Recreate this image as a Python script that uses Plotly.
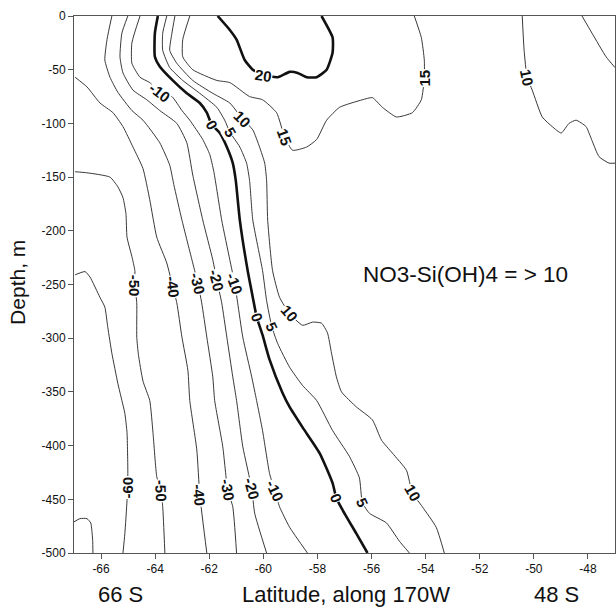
import plotly.graph_objects as go

# ---- contour lines: latitude (deg) and depth (m, negative) ----
lat_m70 = [-67.0, -66.78, -66.52, -66.38, -66.34, -66.31, -66.30]
dep_m70 = [-471, -468, -468, -472, -479, -488, -500]

lat_m60 = [-66.96, -66.59, -66.41, -66.04, -65.86, -65.75, -65.60, -65.38, -65.23, -65.12, -65.04, -65.01, -65.04, -65.12, -65.19]
dep_m60 = [-241, -238, -243, -262, -271, -290, -314, -342, -358, -370, -388, -426, -451, -482, -500]

lat_m50 = [-66.96, -66.52, -65.67, -65.38, -65.19, -65.08, -65.04, -64.86, -64.75, -64.75, -64.68, -64.68, -64.62, -64.45, -64.20, -64.08, -63.94, -63.79, -63.72, -63.64]
dep_m50 = [-145, -146, -150, -159, -169, -184, -206, -224, -237, -251, -267, -299, -315, -340, -358, -388, -429, -442, -457, -500]

lat_m40 = [-66.96, -66.52, -66.04, -65.56, -65.19, -64.82, -64.45, -64.20, -63.94, -63.57, -63.35, -63.20, -63.01, -62.79, -62.72, -62.46, -62.35, -62.09]
dep_m40 = [-57, -66, -81, -90, -103, -122, -142, -171, -206, -230, -252, -267, -299, -330, -358, -404, -446, -500]

lat_m30 = [-65.60, -65.78, -65.86, -65.67, -65.38, -64.86, -64.45, -63.83, -63.46, -63.31, -63.01, -62.61, -62.42, -62.28, -62.09, -61.87, -61.80, -61.50, -61.32, -61.13, -60.99]
dep_m30 = [0, -22, -41, -57, -71, -88, -97, -118, -139, -157, -190, -230, -249, -267, -299, -336, -358, -401, -441, -457, -500]

lat_m20 = [-65.01, -65.23, -65.30, -65.19, -64.82, -64.31, -63.83, -63.20, -62.83, -62.61, -62.24, -61.87, -61.72, -61.54, -61.35, -61.13, -60.99, -60.76, -60.43, -60.32, -59.88]
dep_m20 = [0, -16, -38, -53, -69, -78, -88, -100, -118, -148, -190, -227, -246, -267, -299, -336, -358, -401, -440, -463, -500]

lat_m10 = [-64.56, -64.86, -64.86, -64.56, -64.20, -63.83, -63.38, -63.01, -62.72, -62.24, -61.98, -61.83, -61.54, -61.24, -61.06, -60.95, -60.76, -60.43, -60.25, -60.03, -59.77, -59.58, -59.40, -59.03, -58.37]
dep_m10 = [0, -25, -44, -57, -62, -71, -75, -88, -97, -115, -129, -145, -190, -227, -249, -267, -299, -336, -358, -386, -426, -442, -457, -476, -500]

lat_0 = [-63.90, -64.01, -64.01, -63.83, -63.35, -62.83, -62.35, -62.09, -61.91, -61.61, -61.35, -61.13, -61.02, -60.87, -60.58, -60.39, -60.25, -60.03, -59.77, -59.29, -59.03, -58.55, -57.92, -57.44, -57.30, -57.07, -56.56, -56.15]
dep_0 = [0, -16, -38, -47, -60, -72, -81, -90, -101, -109, -122, -137, -153, -190, -237, -262, -280, -297, -320, -351, -364, -383, -407, -435, -449, -460, -482, -500]

lat_5 = [-63.57, -63.72, -63.72, -63.46, -62.98, -62.35, -61.72, -61.43, -61.24, -60.87, -60.62, -60.51, -60.39, -60.03, -59.88, -59.69, -59.47, -59.03, -58.55, -58.03, -57.44, -56.82, -56.45, -56.34, -56.08, -55.45, -54.97, -54.60]
dep_5 = [0, -16, -32, -48, -60, -72, -85, -97, -108, -122, -137, -153, -190, -237, -265, -289, -305, -327, -344, -358, -386, -410, -430, -453, -463, -472, -489, -500]

lat_10 = [-63.27, -63.38, -63.46, -63.20, -62.61, -61.87, -61.24, -60.95, -60.76, -60.39, -60.14, -59.95, -59.88, -59.84, -59.66, -59.40, -59.03, -58.55, -58.18, -57.85, -57.63, -57.48, -57.30, -57.11, -56.56, -55.97, -55.63, -55.23, -54.71, -54.49, -54.12, -53.61, -53.31]
dep_10 = [0, -16, -32, -44, -60, -72, -81, -90, -96, -106, -122, -137, -153, -190, -237, -262, -277, -288, -285, -286, -295, -314, -336, -350, -364, -376, -395, -407, -423, -444, -457, -476, -500]

lat_15 = [-62.72, -62.98, -62.98, -62.61, -61.72, -61.24, -60.51, -60.03, -59.51, -59.21, -58.92, -58.40, -58.03, -57.66, -57.18, -56.34, -55.97, -55.60, -55.08, -54.49, -54.16, -54.05, -54.05, -54.16, -54.42]
dep_15 = [0, -22, -38, -50, -60, -62, -75, -78, -90, -113, -125, -122, -115, -97, -85, -78, -76, -85, -94, -90, -78, -58, -41, -20, 0]

lat_20 = [-61.69, -61.24, -60.99, -60.69, -60.39, -59.99, -59.47, -59.03, -58.73, -58.40, -58.03, -57.66, -57.44, -57.44, -57.85]
dep_20 = [0, -13, -22, -41, -50, -55, -57, -52, -53, -57, -57, -50, -34, -20, 0]

lat_10e = [-50.43, -50.36, -50.25, -50.06, -49.69, -49.32, -48.99, -48.70, -48.44, -48.07, -47.85, -47.59, -47.22, -47.0]
dep_10e = [0, -32, -57, -69, -94, -103, -109, -100, -97, -103, -116, -131, -137, -137]

lat_5e = [-48.22, -47.85, -47.33, -47.0]
dep_5e = [0, -16, -38, -48]

# ---- contour labels: text, latitude, depth, angle ----
lab_text = ["-10", "0", "5", "10", "15", "20", "15", "10",
            "-50", "-40", "-30", "-20", "-10", "0", "5", "10",
            "-60", "-50", "-40", "-30", "-20", "-10", "0", "5", "10"]
lab_lat = [-63.83, -61.91, -61.24, -60.76, -59.21, -59.99, -54.05, -50.25,
           -64.75, -63.35, -62.42, -61.72, -61.06, -60.25, -59.69, -59.03,
           -65.04, -63.79, -62.35, -61.32, -60.43, -59.58, -57.30, -56.34, -54.49]
lab_dep = [-71, -101, -108, -96, -113, -55, -58, -57,
           -251, -252, -249, -246, -249, -280, -289, -277,
           -439, -442, -446, -441, -440, -442, -449, -453, -444]
lab_ang = [38, 60, 60, 45, 70, 8, -90, 78,
           90, 82, 76, 75, 70, 70, 65, 50,
           -90, 88, 85, 80, 75, 65, 68, 65, 60]

x_ticks = [-66, -64, -62, -60, -58, -56, -54, -52, -50, -48]
x_ticktext = ["-66", "-64", "-62", "-60", "-58", "-56", "-54", "-52", "-50", "-48"]
y_ticks = [0, -50, -100, -150, -200, -250, -300, -350, -400, -450, -500]
y_ticktext = ["0", "-50", "-100", "-150", "-200", "-250", "-300", "-350", "-400", "-450", "-500"]

lines = [
    (lat_m70, dep_m70, False), (lat_m60, dep_m60, False), (lat_m50, dep_m50, False),
    (lat_m40, dep_m40, False), (lat_m30, dep_m30, False), (lat_m20, dep_m20, False),
    (lat_m10, dep_m10, False), (lat_0, dep_0, True), (lat_5, dep_5, False),
    (lat_10, dep_10, False), (lat_15, dep_15, False), (lat_20, dep_20, True),
    (lat_10e, dep_10e, False), (lat_5e, dep_5e, False),
]

FONT = "Arial, 'Liberation Sans', sans-serif"
fig = go.Figure()
for la, de, thick in lines:
    fig.add_trace(go.Scatter(
        x=la, y=de, mode="lines", hoverinfo="skip", showlegend=False,
        line=dict(color="#111" if thick else "#222", width=2.6 if thick else 0.9,
                  shape="spline", smoothing=0.5),
    ))

for t, la, de, a in zip(lab_text, lab_lat, lab_dep, lab_ang):
    fig.add_annotation(x=la, y=de, xref="x", yref="y", text=t, showarrow=False,
                       textangle=a, bgcolor="white", borderpad=0,
                       font=dict(family=FONT, size=15, color="#111", weight="bold"))

fig.add_annotation(x=-52.52, y=-241, xref="x", yref="y", text="NO3-Si(OH)4 = > 10",
                   showarrow=False, font=dict(family=FONT, size=22.5, color="#111"))

# axis titles and end labels
fig.add_annotation(x=0.502, y=-0.078, xref="paper", yref="paper", text="Latitude, along 170W",
                   showarrow=False, yanchor="middle", font=dict(family=FONT, size=22, color="#111"))
fig.add_annotation(x=0.041, y=-0.078, xref="paper", yref="paper", text="66 S",
                   showarrow=False, yanchor="middle", font=dict(family=FONT, size=22, color="#111"))
fig.add_annotation(x=0.938, y=-0.078, xref="paper", yref="paper", text="48 S",
                   showarrow=False, yanchor="middle", font=dict(family=FONT, size=22, color="#111"))
fig.add_annotation(x=-0.1035, y=0.503, xref="paper", yref="paper", text="Depth, m",
                   showarrow=False, textangle=-90, xanchor="center", yanchor="middle",
                   font=dict(family=FONT, size=21, color="#111"))

axis_common = dict(showgrid=False, zeroline=False, showline=True, mirror=True,
                   linecolor="#555", linewidth=1, ticks="outside", ticklen=5,
                   tickcolor="#555", tickfont=dict(family=FONT, size=12, color="#111"))
fig.update_xaxes(range=[-67, -47], tickvals=x_ticks, ticktext=x_ticktext, **axis_common)
fig.update_yaxes(range=[-500, 0], tickvals=y_ticks, ticktext=y_ticktext, **axis_common)

fig.update_layout(width=616, height=608, margin=dict(l=74, r=1, t=16, b=55),
                  plot_bgcolor="white", paper_bgcolor="white")
fig.write_html("out.html")
